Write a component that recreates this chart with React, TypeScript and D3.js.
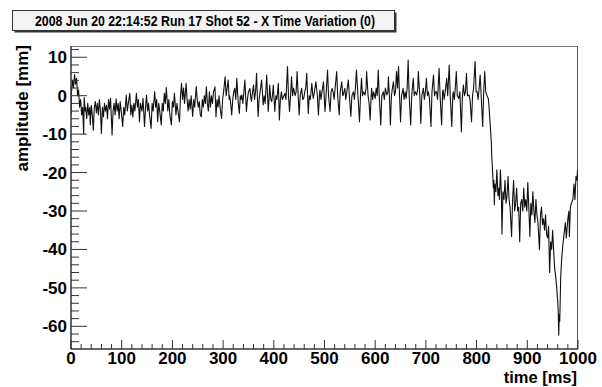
import React from "react";
import * as d3 from "d3";

const TITLE = "2008 Jun 20 22:14:52 Run 17 Shot 52 - X Time Variation (0)";
const X_LABEL = "time [ms]";
const Y_LABEL = "amplitude [mm]";
const X_DOMAIN: [number, number] = [0, 1000];
const Y_DOMAIN: [number, number] = [-65.9, 12.93];
const X_MAJOR_TICKS = [0, 100, 200, 300, 400, 500, 600, 700, 800, 900, 1000];
const Y_MAJOR_TICKS = [10, 0, -10, -20, -30, -40, -50, -60];

// [time ms, amplitude mm]
const startSegment: [number, number][] = [
  [0,-5],[1,1],[3,4],[5,2],[7,5.5],[9,3],[11,4.5],[13,0],[15,1.5],[17,-3],[19,-1],[21,-5],[23,-3],[25,-10],[26,-0.5],[28,-4],
  [29,-3],[31,-6],[33,-2],[35,-5],[37,-3],[38,-7.6],[40,-2.5],[42,-5],[44,-9],[46,-3],[48,-1.5],[50,-4.5],[52,-2],[54,-5],[56,-1],[58,-4],[60,-9.8],[62,-3],[64,-5.5],[66,-2],[68,-4],[70,-2.5],[72,-6],[74,-1],[76,-3.5],[78,-0.7],[81,-10.2],[83,-4],[85,-2],[87,-5],[89,-0.8],[91,-4],[93,-2],[95,-6],[97,-1.5],[99,-4],
  [102,-8],[104,-3],[106,-5],[109,0.2],[111,-4],[113,-2],[116,0.6],[118,-5],[120,-2.5],[122,-5.5],[124,-2],[126,-4],[129,0.6],[131,-3],[133,-1],[135,-6.8],[137,-2],[140,-4],[142,-0.7],[145,-8],[147,-3],[149,0.2],[151,-4],[153,-2],[155,-5],[158,-8.5],[160,-2],[162,-4],[165,1],[167,-3],[169,-1],[171,-6.8],[173,-2],[175,-4],[178,-7.6],[180,-2],[182,-4],[184,0.6],[186,-2],[188,2.1],[191,-4],[193,-1],[195,-5],[198,-7.6],
];

const riseSegment: [number, number][] = [
  [200,-1.5],[202,-3],[204,0.6],[207,-5],[209,-2],[211,-4],[214,-6.8],[216,0],[218,3.2],[220,-1],[222,2],[224,-2],[227,3.2],[229,-1],[231,-4],[233,-1],[235,-3.5],[237,0],[240,-5.4],[242,-1],[244,-3],[247,2.4],[249,-1],[251,-3],[253,-1.5],[255,-5],[257,-5.5],[259,-1],[261,-3],[263,0],[265,-2],[267,2.3],[269,-2],[271,-4],[273,1],[275,-3],[277,0],[279,-2],[281,1],[284,2.3],[286,-5.5],[288,-1],[290,-3],[292,0],[294,-3],[297,-5.9],[299,-1],
  [301,1],[304,4.9],[306,0],[308,2],[310,4.1],[312,-1],[313,0],[315,-2],[317,-5],[319,-1],[321,1],[323,1.9],[325,-1],[327,4.5],[329,0],[330,-2],[332,-4.6],[334,0],[335,-1],[337,0.2],[339,-2],[341,1],[343,4.1],[346,-4.1],[348,-1],[350,1],[353,1.9],[355,-1],[356,-1.5],[358,1],[360,2.8],[362,-1],[364,1],[366,5.8],[369,-5.4],[371,-1],[373,1],[376,4.1],[378,0],[379,-2.4],[381,0],[383,-2],[386,5.4],[389,-4.1],[391,0],[392,2.8],[394,-1],[396,-1.5],[398,1],[399,2.8],
];

const plateauSegment: [number, number][] = [
  [402,-4.1],[404,0],[406,-1],[409,3.2],[411,-6.3],[413,-1],[415,1],[417,-1],[420,0],[422,0.6],[424,-1],[427,7.6],[429,0],[431,-4.1],[433,0],[435,4.9],[437,0],[439,2],[442,0],[444,1],[446,6.3],[448,0],[450,-5],[452,0],[455,1.9],[457,-1],[459,-0.7],[461,1],[463,2],[465,5.8],[468,-4.6],[470,0],[472,-1],[475,3.2],[477,0],[478,-0.7],[480,1],[483,3.6],[486,0],[488,-5],[490,0],[491,1.5],[493,-1],[495,1],[498,3.6],
  [501,-4.1],[503,0],[506,6.7],[508,0],[511,-4.1],[513,1],[515,1.9],[517,1],[519,-1],[521,2],[524,6.3],[526,0],[529,-5],[531,1],[534,3.6],[536,0],[537,0.2],[540,1.9],[542,-1],[544,1],[547,4.1],[549,0],[552,-5.4],[554,0],[557,1],[559,-1],[561,2],[563,6.7],[566,0],[569,-6.8],[571,0],[573,4.5],[575,0],[577,1],[580,0.2],[582,2],[583,6.3],[586,0],[588,-2],[590,-6.3],[592,0],[593,1.9],[595,-1],[597,1],
  [600,-0.7],[602,2],[604,0],[606,6.7],[608,0],[611,-7.6],[613,0],[616,1],[618,-1],[620,2],[623,0.2],[625,1],[626,4.9],[628,0],[630,-7.6],[632,0],[634,2],[636,3.6],[638,0],[640,1],[642,6.3],[644,2],[646,7.6],[648,0],[650,-6.8],[652,0],[655,1.9],[657,-1],[659,1],[661,-0.7],[663,2],[665,9.3],[667,0],[670,-7.6],[672,0],[675,4.5],[677,0],[679,1],[682,0.2],[684,2],[685,6.3],[688,0],[690,-7.2],[692,0],[695,1.9],[697,-1],[699,1],
  [701,4.5],[703,0],[705,1],[707,-0.7],[710,-8],[712,1],[715,5.4],[717,0],[719,1],[721,1],[723,-1],[726,7.1],[728,0],[731,-7.6],[733,1],[734,1.5],[736,-1],[738,1],[741,4.5],[743,0],[746,8],[748,0],[751,-8],[753,0],[754,1],[756,-1],[758,2],[760,6.3],[762,0],[765,-0.7],[767,1],[770,-9.4],[772,0],[774,2.8],[776,0],[778,1],[780,5.8],[782,0],[785,0.2],[787,-1],[790,-6.8],[792,0],[794,2],[797,8.9],[799,1],
  [801,1],[803,-1],[805,2],[807,5.4],[809,0],[812,-8],[814,1],[816,6.3],[818,1],[820,0.2],
];

const dropSegment: [number, number][] = [
  [822,-0.5],[823,-0.7],[824,-2],[826,-5.9],[828,-10],[829,-12],[830,-16],[831,-18.4],[832,-21],[833,-24],[834,-22],[835,-28.4],[836,-23],[838,-25],[840,-19.3],[842,-26],[844,-24],[845,-27],[847,-19.3],[849,-26],[850,-36],[852,-25],[854,-27],[856,-22],[858,-28],[860,-26],[862,-21],[864,-27],[866,-29],[869,-36.6],[871,-27],[873,-22],[875,-30],[877,-28],[879,-24],[881,-30],[883,-29],[885,-38],[887,-28],[889,-27],[891,-30],[893,-24],[895,-29],[897,-27],[899,-30],
  [901,-22.6],[903,-29],[905,-36.6],[907,-28],[909,-31],[911,-25],[913,-30],[915,-33],[917,-27],[919,-31],[921,-33],[924,-40],[926,-31],[928,-29],[930,-33.5],[932,-32],[934,-35],[936,-31],[938,-36],[940,-37],[942,-34],[944,-46],[946,-38],[948,-40],[950,-35],[952,-40.4],[954,-45],[956,-47],[958,-50],[960,-53.5],[961,-56],[962,-62.3],[963,-57],[964,-58.7],[966,-46.8],[968,-42],[970,-39],[973,-35.5],[975,-33],[977,-37],[980,-32],[982,-30],[983,-36.6],[985,-29],[987,-28],[990,-27],[992,-23],[994,-27],[996,-21],[998,-22],[999,-19.5],[1000,-21],
];

const trace = [...startSegment, ...riseSegment, ...plateauSegment, ...dropSegment];

const W = 602;
const H = 387;
const LEFT = 71;
const RIGHT = 578;
const TOP = 46;
const BOTTOM = 349;
const FONT = "'Liberation Sans', Arial, Helvetica, sans-serif";

export default function App() {
  const x = d3.scaleLinear().domain(X_DOMAIN).range([LEFT, RIGHT]);
  const y = d3.scaleLinear().domain(Y_DOMAIN).range([BOTTOM, TOP]);
  const line = d3
    .line<[number, number]>()
    .x((d) => x(d[0]))
    .y((d) => y(d[1]));

  const xMinor = d3.range(0, 1001, 20).filter((v) => v % 100 !== 0);
  const yMinor = d3.range(-64, 13, 2).filter((v) => v % 10 !== 0);

  return (
    <svg
      width={W}
      height={H}
      style={{ position: "absolute", left: 0, top: 0, background: "#fff" }}
      fontFamily={FONT}
      fontWeight="bold"
    >
      <rect x={0} y={0} width={W} height={H} fill="#fff" />
      {/* title box */}
      <rect x={14.5} y={12.5} width={382} height={20} fill="#333" />
      <rect x={12.5} y={10.5} width={382} height={20} fill="#f4f4f4" stroke="#333" strokeWidth={1} />
      <text x={205} y={26} textAnchor="middle" fontSize={14} textLength={340} lengthAdjust="spacingAndGlyphs" fill="#000">
        {TITLE}
      </text>

      {/* frame */}
      <line x1={LEFT} y1={TOP + 0.5} x2={RIGHT} y2={TOP + 0.5} stroke="#777" strokeWidth={1} />
      <line x1={RIGHT - 0.5} y1={TOP} x2={RIGHT - 0.5} y2={BOTTOM} stroke="#a33" strokeWidth={1} />

      {/* data */}
      <clipPath id="plotclip">
        <rect x={LEFT} y={TOP} width={RIGHT - LEFT} height={BOTTOM - TOP} />
      </clipPath>
      <path d={line(trace) ?? ""} fill="none" stroke="#111" strokeWidth={1.1} strokeLinejoin="round" clipPath="url(#plotclip)" />

      {/* axes */}
      <line x1={LEFT} y1={TOP} x2={LEFT} y2={BOTTOM} stroke="#333" strokeWidth={1.5} />
      <line x1={LEFT} y1={BOTTOM} x2={RIGHT} y2={BOTTOM} stroke="#333" strokeWidth={1.5} />

      {Y_MAJOR_TICKS.map((v) => (
        <g key={"ym" + v}>
          <line x1={LEFT} x2={LEFT + 16} y1={y(v)} y2={y(v)} stroke="#333" strokeWidth={1} />
          <text x={67} y={y(v) + 6} textAnchor="end" fontSize={17} fill="#000">
            {v}
          </text>
        </g>
      ))}
      {yMinor.map((v) => (
        <line key={"yn" + v} x1={LEFT} x2={LEFT + 8} y1={y(v)} y2={y(v)} stroke="#333" strokeWidth={1} />
      ))}

      {X_MAJOR_TICKS.map((v) => (
        <g key={"xm" + v}>
          <line x1={x(v)} x2={x(v)} y1={BOTTOM} y2={BOTTOM - 9} stroke="#333" strokeWidth={1} />
          <text x={x(v)} y={364} textAnchor="middle" fontSize={17} fill="#000">
            {v}
          </text>
        </g>
      ))}
      {xMinor.map((v) => (
        <line key={"xn" + v} x1={x(v)} x2={x(v)} y1={BOTTOM} y2={BOTTOM - 5} stroke="#333" strokeWidth={1} />
      ))}

      <text x={577} y={383} textAnchor="end" fontSize={16.5} fill="#000">
        {X_LABEL}
      </text>
      <text transform="translate(28,45) rotate(-90)" textAnchor="end" fontSize={17} fill="#000">
        {Y_LABEL}
      </text>
    </svg>
  );
}
